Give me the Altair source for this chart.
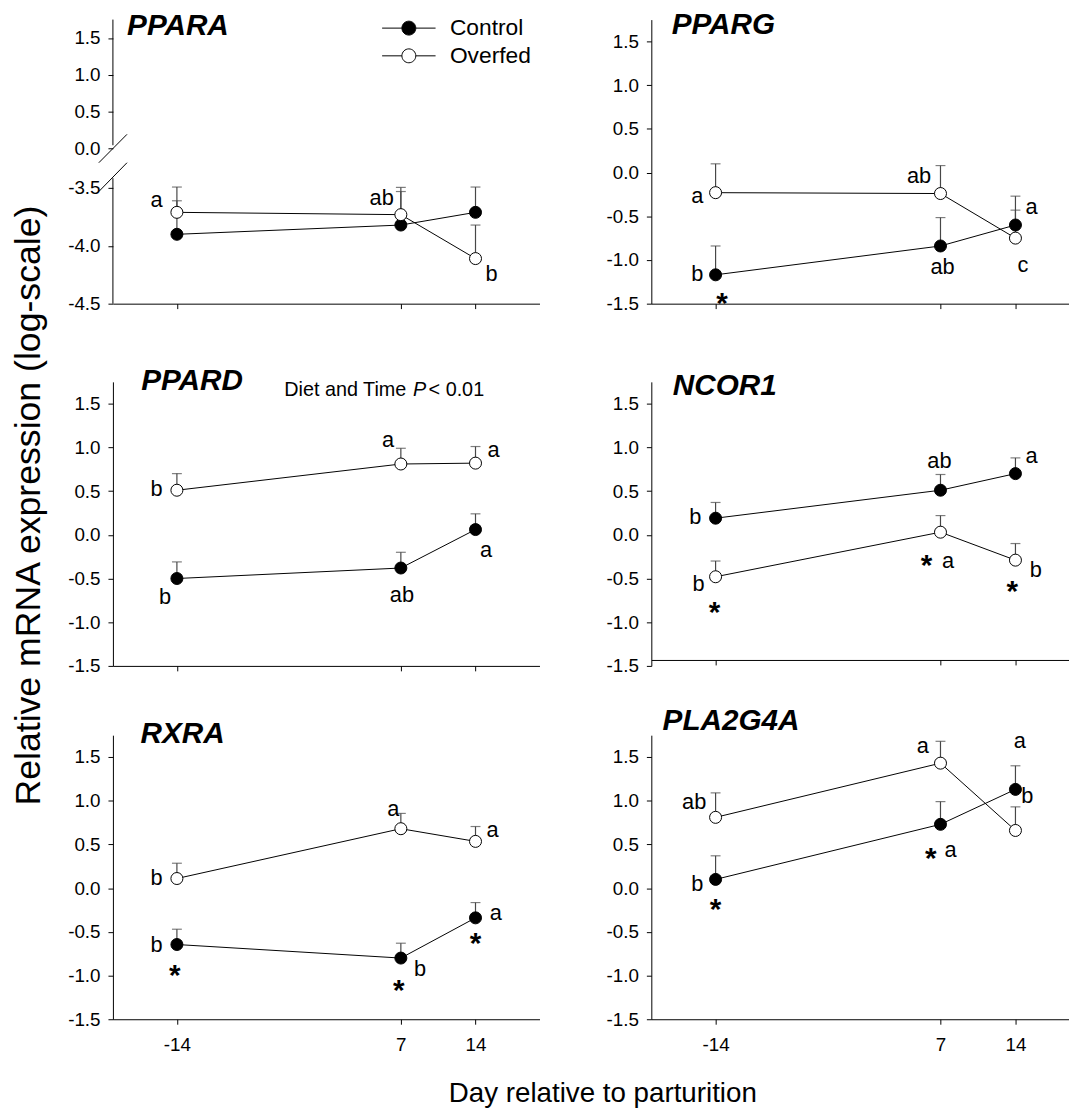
import altair as alt
import pandas as pd

FONT = "Liberation Sans"
EB_COLOR = "#474747"

# ---------------- data ----------------
days = [-14, 7, 14]
groups = ["Control", "Overfed"]

PPARA_control = [-3.90, -3.82, -3.71]
PPARA_control_se = [0.29, 0.29, 0.30]
PPARA_overfed = [-3.71, -3.73, -4.11]
PPARA_overfed_se = [0.30, 0.29, 0.29]

PPARG_control = [-1.17, -0.84, -0.60]
PPARG_control_se = [0.33, 0.325, 0.33]
PPARG_overfed = [-0.23, -0.24, -0.75]
PPARG_overfed_se = [0.33, 0.32, 0.32]

PPARD_control = [-0.50, -0.38, 0.06]
PPARD_control_se = [0.19, 0.18, 0.18]
PPARD_overfed = [0.51, 0.81, 0.82]
PPARD_overfed_se = [0.19, 0.18, 0.19]

NCOR1_control = [0.19, 0.51, 0.70]
NCOR1_control_se = [0.18, 0.18, 0.18]
NCOR1_overfed = [-0.48, 0.03, -0.29]
NCOR1_overfed_se = [0.18, 0.19, 0.19]

RXRA_control = [-0.645, -0.80, -0.34]
RXRA_control_se = [0.175, 0.17, 0.175]
RXRA_overfed = [0.11, 0.68, 0.535]
RXRA_overfed_se = [0.175, 0.175, 0.17]

PLA2G4A_control = [0.10, 0.73, 1.13]
PLA2G4A_control_se = [0.27, 0.26, 0.27]
PLA2G4A_overfed = [0.81, 1.43, 0.66]
PLA2G4A_overfed_se = [0.28, 0.25, 0.27]

# significance letters: (day, value, text)
PPARA_letters = [(-15.9, -3.60, "a"), (5.2, -3.59, "ab"), (15.5, -4.24, "b")]
PPARG_letters = [(-15.7, -0.27, "a"), (5.0, -0.04, "ab"), (15.5, -0.40, "a"),
                 (-15.7, -1.16, "b"), (7.2, -1.08, "ab"), (14.7, -1.06, "c")]
PPARD_letters = [(-15.9, 0.52, "b"), (5.8, 1.085, "a"), (15.7, 0.97, "a"),
                 (-15.1, -0.71, "b"), (7.1, -0.69, "ab"), (15.0, -0.18, "a")]
NCOR1_letters = [(-15.9, 0.20, "b"), (6.9, 0.84, "ab"), (15.5, 0.90, "a"),
                 (-15.6, -0.56, "b"), (7.7, -0.295, "a"), (15.9, -0.40, "b")]
RXRA_letters = [(-15.9, 0.11, "b"), (6.3, 0.90, "a"), (15.6, 0.66, "a"),
                (-15.9, -0.65, "b"), (8.8, -0.93, "b"), (15.9, -0.285, "a")]
PLA2G4A_letters = [(-16.0, 0.98, "ab"), (5.35, 1.625, "a"), (14.4, 1.68, "a"),
                   (15.1, 1.056, "b"), (-15.7, 0.05, "b"), (7.95, 0.43, "a")]

# diet effect asterisks: (day, value)
PPARA_stars = []
PPARG_stars = [(-13.4, -1.41)]
PPARD_stars = []
NCOR1_stars = [(-14.1, -0.805), (5.7, -0.27), (13.7, -0.57)]
RXRA_stars = [(-14.2, -0.92), (6.8, -1.09), (14.0, -0.55)]
PLA2G4A_stars = [(-14.0, -0.16), (6.1, 0.42)]

# panel title anchors (day, value)
PPARA_title = (-18.67, 1.546)
PPARG_title = (-18.1, 1.588)
PPARD_title = (-17.35, 1.652)
NCOR1_title = (-18.0, 1.595)
RXRA_title = (-17.41, 1.663)
PLA2G4A_title = (-18.95, 1.815)

# PPARD statistics note
PPARD_note = [(-3.93, 1.59, "Diet and Time", "normal"), (8.15, 1.59, "P", "italic"),
              (9.6, 1.59, "< 0.01", "normal")]

y_ticks = [-1.5, -1.0, -0.5, 0.0, 0.5, 1.0, 1.5]
y_ticks_ppara = [-4.5, -4.0, -3.5, 0.0, 0.5, 1.0, 1.5]

# PPARA broken y axis pieces
ppara_axis_x = [-20, -20]
ppara_axis_y = [1.75, -2.63]
ppara_axis_y2 = [0.044, -4.5]
ppara_break_x = [-21.32, -21.32]
ppara_break_x2 = [-18.68, -18.68]
ppara_break_y = [-1.26, -3.53]
ppara_break_y2 = [0.192, -1.26]

# ---------------- styling ----------------
H = 287
H2 = 296          # middle row: 9px extra headroom above the axis
W_LEFT = 431
W_RIGHT = 422
XDOM_LEFT = [-20, 20]
XDOM_RIGHT = [-20, 19.0]

LEGEND_PATH = ("M-1,0L-0.26,0M0.26,0L1,0M0.26,0A0.26,0.26,0,1,1,-0.26,0"
               "A0.26,0.26,0,1,1,0.26,0Z")
LEGEND = alt.Legend(title=None, orient="none", legendX=271.5, legendY=-4.4,
                    symbolType=LEGEND_PATH, symbolSize=2916, symbolStrokeColor="black",
                    symbolStrokeWidth=1, labelFont=FONT, labelFontSize=23,
                    labelColor="black", labelOffset=14, clipHeight=26, rowPadding=2,
                    padding=0, symbolOffset=0)
FILL_SCALE = alt.Scale(domain=groups, range=["black", "white"])

NEG_FMT_Y = "(datum.value < 0 ? '-' : '') + format(abs(datum.value), '.1f')"
NEG_FMT_X = "(datum.value < 0 ? '-' : '') + format(abs(datum.value), 'd')"


def make_panel(gene, title_xy, ctrl, ctrl_se, over, over_se, letters, stars,
               xdom, width, yscale, yvals, bottom, height=H, ydomain_line=True,
               yaxis_extra=None, xaxis_extra=None, extra=None):
    rows = []
    for g, m, s in (("Control", ctrl, ctrl_se), ("Overfed", over, over_se)):
        for d, mi, si in zip(days, m, s):
            rows.append({"day": d, "group": g, "mean": mi, "upper": round(mi + si, 4)})
    df = pd.DataFrame(rows)

    xs = alt.Scale(domain=xdom, nice=False, zero=False)
    xkw = dict(values=days, grid=False, title=None, tickSize=5, domainColor="black",
               tickColor="black", domainWidth=1, tickWidth=1, labels=bottom,
               labelExpr=NEG_FMT_X, labelFontSize=19, labelPadding=12,
               labelColor="black", labelFont=FONT)
    if xaxis_extra:
        xkw.update(xaxis_extra)
    xaxis = alt.Axis(**xkw)
    ykw = dict(values=yvals, grid=False, title=None, tickSize=5, domain=ydomain_line,
               domainColor="black", tickColor="black", domainWidth=1, tickWidth=1,
               labelExpr=NEG_FMT_Y, labelFontSize=19, labelPadding=8,
               labelColor="black", labelFont=FONT)
    if yaxis_extra:
        ykw.update(yaxis_extra)
    yaxis = alt.Axis(**ykw)

    def X(f):
        return alt.X(f"{f}:Q", scale=xs, axis=xaxis)

    def Y(f):
        return alt.Y(f"{f}:Q", scale=yscale, axis=yaxis)

    base = alt.Chart(df)
    layers = []
    if extra:
        layers += extra(X, Y)
    layers.append(base.mark_rule(color=EB_COLOR, strokeWidth=1.2).encode(
        x=X("day"), y=Y("mean"), y2=alt.Y2("upper:Q")))
    layers.append(base.mark_tick(orient="horizontal", size=10, thickness=1.2,
                                 color=EB_COLOR).encode(x=X("day"), y=Y("upper")))
    layers.append(base.mark_line(color="black", strokeWidth=1).encode(
        x=X("day"), y=Y("mean"), detail="group:N", order="day:Q"))
    layers.append(base.mark_point(shape="circle", filled=True, size=147, stroke="black",
                                  strokeWidth=1, opacity=1).encode(
        x=X("day"), y=Y("mean"),
        fill=alt.Fill("group:N", scale=FILL_SCALE, legend=LEGEND)))

    ldf = pd.DataFrame(letters, columns=["x", "y", "t"])
    layers.append(alt.Chart(ldf).mark_text(font=FONT, fontSize=22, align="center",
                                           baseline="middle", color="black").encode(
        x=X("x"), y=Y("y"), text="t:N"))
    if stars:
        sdf = pd.DataFrame(stars, columns=["x", "y"])
        layers.append(alt.Chart(sdf).mark_text(font=FONT, fontSize=30, fontWeight="bold",
                                               align="center", baseline="middle",
                                               dy=8, text="*", color="black").encode(
            x=X("x"), y=Y("y")))
    tdf = pd.DataFrame([{"x": title_xy[0], "y": title_xy[1], "t": gene}])
    layers.append(alt.Chart(tdf).mark_text(font=FONT, fontSize=30, fontWeight="bold",
                                           fontStyle="italic", align="left",
                                           baseline="alphabetic", color="black").encode(
        x=X("x"), y=Y("y"), text="t:N"))
    return alt.layer(*layers).properties(width=width, height=height)


std_y = alt.Scale(domain=[-1.5, 1.75], nice=False, zero=False)
mid_y = alt.Scale(domain=[-1.5, 1.75], range=[H2, H2 - H], nice=False, zero=False)
ppara_y = alt.Scale(domain=[-4.5, -3.5, 0.0, 1.75], range=[287, 170.2, 130.2, 0],
                    nice=False, zero=False)


def ppara_extra(X, Y):
    adf = pd.DataFrame({"x": ppara_axis_x, "y": ppara_axis_y, "y2": ppara_axis_y2})
    bdf = pd.DataFrame({"x": ppara_break_x, "x2": ppara_break_x2,
                        "y": ppara_break_y, "y2": ppara_break_y2})
    return [
        alt.Chart(adf).mark_rule(color="black", strokeWidth=1).encode(
            x=X("x"), y=Y("y"), y2=alt.Y2("y2:Q")),
        alt.Chart(bdf).mark_rule(color="black", strokeWidth=1).encode(
            x=X("x"), x2=alt.X2("x2:Q"), y=Y("y"), y2=alt.Y2("y2:Q")),
    ]


def ppard_extra(X, Y):
    out = []
    for x, y, t, style in PPARD_note:
        ndf = pd.DataFrame([{"x": x, "y": y, "t": t}])
        out.append(alt.Chart(ndf).mark_text(font=FONT, fontSize=20, fontStyle=style,
                                            align="left", baseline="alphabetic",
                                            color="black").encode(
            x=X("x"), y=Y("y"), text="t:N"))
    return out


p1 = make_panel("PPARA", PPARA_title, PPARA_control, PPARA_control_se, PPARA_overfed,
                PPARA_overfed_se, PPARA_letters, PPARA_stars, XDOM_LEFT, W_LEFT,
                ppara_y, y_ticks_ppara, False, ydomain_line=False, extra=ppara_extra)
p2 = make_panel("PPARG", PPARG_title, PPARG_control, PPARG_control_se, PPARG_overfed,
                PPARG_overfed_se, PPARG_letters, PPARG_stars, XDOM_RIGHT, W_RIGHT,
                std_y, y_ticks, False)
p3 = make_panel("PPARD", PPARD_title, PPARD_control, PPARD_control_se, PPARD_overfed,
                PPARD_overfed_se, PPARD_letters, PPARD_stars, XDOM_LEFT, W_LEFT,
                mid_y, y_ticks, False, height=H2, extra=ppard_extra,
                yaxis_extra=dict(title="Relative mRNA expression (log-scale)",
                                 titleFont=FONT, titleFontSize=36,
                                 titleFontWeight="normal", titleColor="black",
                                 titleAngle=270, titleX=-85.5, titleY=133.5,
                                 titleAlign="center", titleBaseline="middle"))
p4 = make_panel("NCOR1", NCOR1_title, NCOR1_control, NCOR1_control_se, NCOR1_overfed,
                NCOR1_overfed_se, NCOR1_letters, NCOR1_stars, XDOM_RIGHT, W_RIGHT,
                mid_y, y_ticks, False, height=H2, xaxis_extra=dict(offset=-6))
p5 = make_panel("RXRA", RXRA_title, RXRA_control, RXRA_control_se, RXRA_overfed,
                RXRA_overfed_se, RXRA_letters, RXRA_stars, XDOM_LEFT, W_LEFT,
                std_y, y_ticks, True,
                xaxis_extra=dict(title="Day relative to parturition", titleFont=FONT,
                                 titleFontSize=28, titleFontWeight="normal",
                                 titleColor="black", titleX=494.5, titleY=83,
                                 titleAlign="center", titleBaseline="alphabetic"))
p6 = make_panel("PLA2G4A", PLA2G4A_title, PLA2G4A_control, PLA2G4A_control_se,
                PLA2G4A_overfed, PLA2G4A_overfed_se, PLA2G4A_letters, PLA2G4A_stars,
                XDOM_RIGHT, W_RIGHT, std_y, y_ticks, True)

chart = alt.concat(
    p1, p2, p3, p4, p5, p6,
    columns=2,
    spacing={"row": 70, "column": 113},
    bounds="flush",
).properties(
    padding={"left": 2, "top": -4, "right": 0, "bottom": 0},
    background="white",
).configure_view(stroke=None)

chart.save("out.html", embed_options={"renderer": "svg", "actions": False})
